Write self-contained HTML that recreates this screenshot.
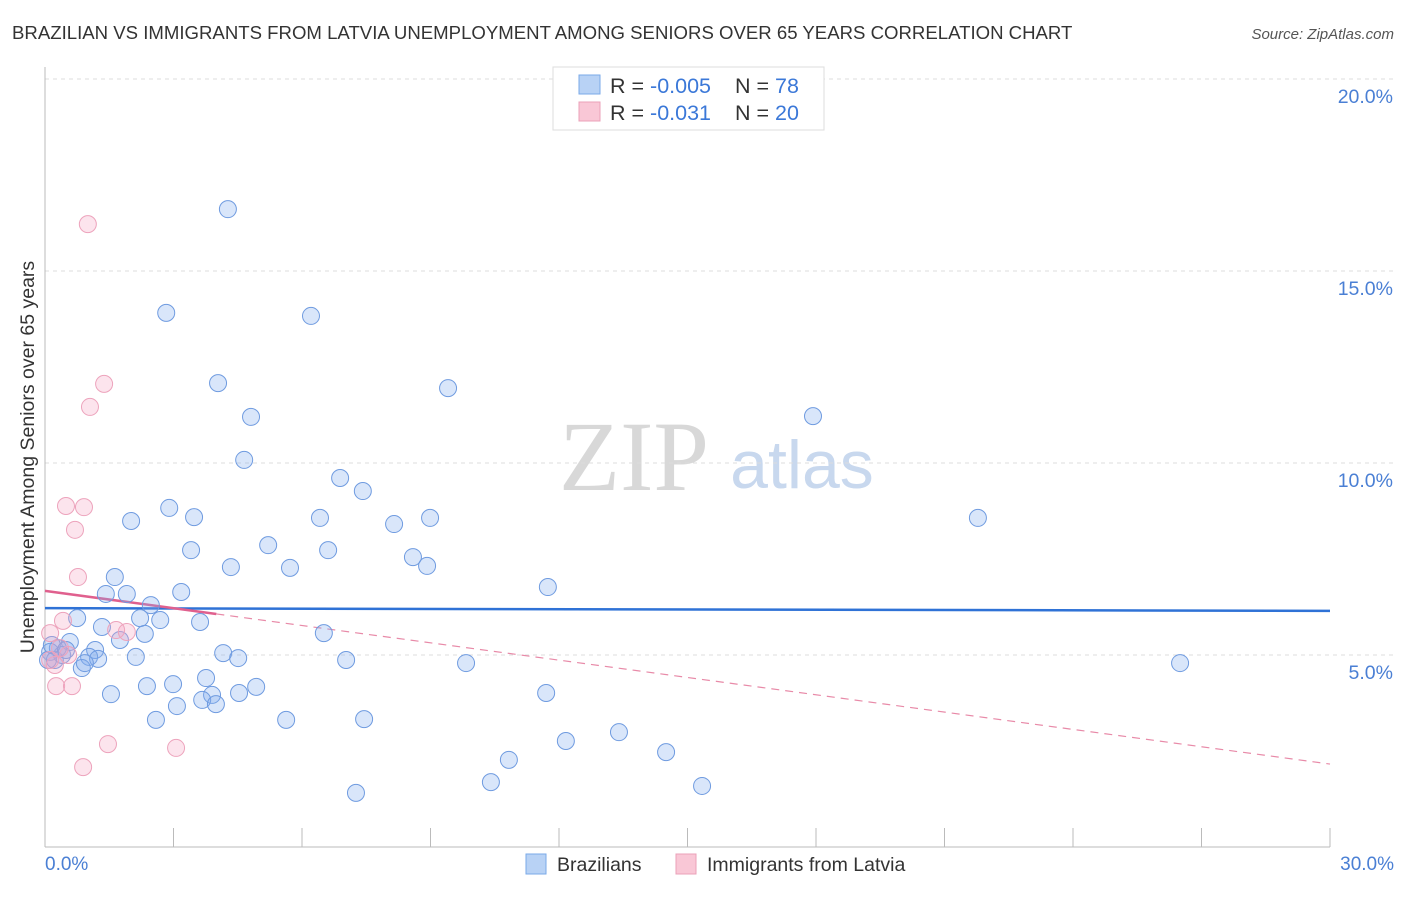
<!DOCTYPE html>
<html><head><meta charset="utf-8"><style>
body{margin:0;background:#fff;font-family:"Liberation Sans",sans-serif;}
</style></head><body>
<svg id="chart" width="1406" height="892" style="font-family:'Liberation Sans',sans-serif">
<text x="12" y="39" font-size="18.6" fill="#333">BRAZILIAN VS IMMIGRANTS FROM LATVIA UNEMPLOYMENT AMONG SENIORS OVER 65 YEARS CORRELATION CHART</text>
<text x="1394" y="39" font-size="15" fill="#555" font-style="italic" text-anchor="end">Source: ZipAtlas.com</text>
<text x="634" y="490" font-size="100" fill="#d8d8d8" style="font-family:'Liberation Serif',serif" text-anchor="middle">ZIP</text>
<text x="802" y="488" font-size="68" fill="#c8d8ee" text-anchor="middle">atlas</text>
<g id="grid"></g>
<g id="axes"></g>
<g id="lines"></g>
<g id="pts"></g>
<text transform="translate(34,457) rotate(-90)" font-size="19.5" fill="#333" text-anchor="middle">Unemployment Among Seniors over 65 years</text>
<text x="45" y="870" font-size="19" fill="#4a7fd4">0.0%</text>
<text x="1394" y="870" font-size="19" fill="#4a7fd4" text-anchor="end">30.0%</text>
<g>
<rect x="553" y="67" width="271" height="63" fill="#fff" stroke="#ddd"/>
<rect x="579" y="75" width="21" height="19" fill="#b8d2f5" stroke="#7aaae8"/>
<rect x="579" y="102" width="21" height="19" fill="#f9c7d6" stroke="#eba0b8"/>
<text x="610" y="93" font-size="21.5" fill="#333">R = <tspan fill="#3b78d8">-0.005</tspan></text>
<text x="735" y="93" font-size="21.5" fill="#333">N = <tspan fill="#3b78d8"> 78</tspan></text>
<text x="610" y="120" font-size="21.5" fill="#333">R = <tspan fill="#3b78d8"> -0.031</tspan></text>
<text x="735" y="120" font-size="21.5" fill="#333">N = <tspan fill="#3b78d8">20</tspan></text>
</g>
<g>
<rect x="526" y="854" width="20" height="20" fill="#b8d2f5" stroke="#7aaae8"/>
<text x="557" y="871" font-size="19.5" fill="#333">Brazilians</text>
<rect x="676" y="854" width="20" height="20" fill="#f9c7d6" stroke="#eba0b8"/>
<text x="707" y="871" font-size="19.5" fill="#333">Immigrants from Latvia</text>
</g>
</svg>
<script>
const yTicks=[5,10,15,20];
const yTickLabels=["5.0%","10.0%","15.0%","20.0%"];
const xTicks=[0,3,6,9,12,15,18,21,24,27,30];
const blueX=[4.27,2.83,6.21,4.04,9.41,4.81,17.93,4.65,6.89,7.42,2.90,2.01,3.48,6.42,8.99,8.15,21.78,3.41,5.21,6.61,8.59,4.34,5.72,8.92,1.63,11.74,3.18,1.42,1.91,2.47,2.22,2.69,3.62,0.75,1.33,2.33,1.75,6.51,4.16,0.58,0.30,0.12,1.17,1.03,1.24,2.12,4.51,7.03,9.83,26.50,0.86,0.23,3.76,1.54,2.38,2.99,3.90,4.93,4.53,11.70,3.08,3.67,3.99,2.59,5.63,7.45,13.40,12.16,14.50,10.83,10.41,15.34,7.26,0.40,0.07,0.16,0.49,0.93];
const blueY=[16.61,13.91,13.83,12.08,11.95,11.20,11.22,10.08,9.61,9.27,8.83,8.49,8.59,8.57,8.57,8.41,8.57,7.73,7.86,7.73,7.55,7.29,7.27,7.32,7.03,6.77,6.64,6.59,6.59,6.30,5.96,5.91,5.86,5.96,5.73,5.55,5.39,5.57,5.05,5.34,5.18,5.08,5.13,4.95,4.90,4.95,4.92,4.87,4.79,4.79,4.66,4.87,4.40,3.98,4.19,4.24,3.96,4.17,4.01,4.01,3.67,3.83,3.72,3.31,3.31,3.33,2.99,2.76,2.47,2.27,1.69,1.59,1.41,5.00,4.87,5.26,5.13,4.79];
const pinkX=[1.00,1.38,1.05,0.49,0.91,0.70,0.77,0.42,0.12,1.66,1.91,0.54,0.23,0.12,0.26,0.63,1.47,3.06,0.89,0.35];
const pinkY=[16.22,12.06,11.46,8.88,8.85,8.26,7.03,5.89,5.57,5.65,5.60,5.00,4.74,4.87,4.19,4.19,2.68,2.58,2.08,5.18];
const blueTrend=[6.22,6.15];
const pinkTrend=[6.67,2.16];
const pinkSolidEnd=4.0;

const NS="http://www.w3.org/2000/svg";
const X=v=>45+v*(1285/30), Y=v=>847-v*38.4;
function mk(tag,attrs,parent){const e=document.createElementNS(NS,tag);for(const k in attrs)e.setAttribute(k,attrs[k]);document.getElementById(parent).appendChild(e);return e;}
yTicks.forEach((t,i)=>{
 const l=mk('line',{x1:45,x2:1394,y1:Y(t),y2:Y(t),stroke:'#ddd','stroke-dasharray':'4,4'},'grid');
 
 
 const tx=mk('text',{x:1393,y:Y(t)+24,'font-size':19.5,fill:'#4a7fd4','text-anchor':'end'},'grid');
 tx.textContent=yTickLabels[i];
 
 
});
let a=mk('line',{x1:45,x2:45,y1:67,y2:847,stroke:'#bbb'},'axes');


a=mk('line',{x1:45,x2:1330,y1:847,y2:847,stroke:'#bbb'},'axes');


xTicks.forEach(t=>{
 const l=mk('line',{x1:X(t),x2:X(t),y1:828,y2:847,stroke:'#bbb'},'axes');
 
 
});
const f=(arr,x)=>arr[0]+(arr[1]-arr[0])*x/30;
let ln=mk('line',{x1:X(0),x2:X(30),y1:Y(blueTrend[0]),y2:Y(blueTrend[1]),stroke:'#2f72d6','stroke-width':2.5},'lines');


ln=mk('line',{x1:X(0),x2:X(pinkSolidEnd),y1:Y(pinkTrend[0]),y2:Y(f(pinkTrend,pinkSolidEnd)),stroke:'#e0608e','stroke-width':2.5},'lines');


ln=mk('line',{x1:X(pinkSolidEnd),x2:X(30),y1:Y(f(pinkTrend,pinkSolidEnd)),y2:Y(pinkTrend[1]),stroke:'#e88aa8','stroke-width':1.2,'stroke-dasharray':'8,6'},'lines');


blueX.forEach((v,i)=>{
 const c=mk('circle',{cx:X(v),cy:Y(blueY[i]),r:8.5,fill:'rgba(130,172,238,0.3)',stroke:'#6f9be0','stroke-width':1},'pts');
 
 
});
pinkX.forEach((v,i)=>{
 const c=mk('circle',{cx:X(v),cy:Y(pinkY[i]),r:8.5,fill:'rgba(245,165,195,0.3)',stroke:'#eda3bc','stroke-width':1},'pts');
 
 
});
</script>
</body></html>
